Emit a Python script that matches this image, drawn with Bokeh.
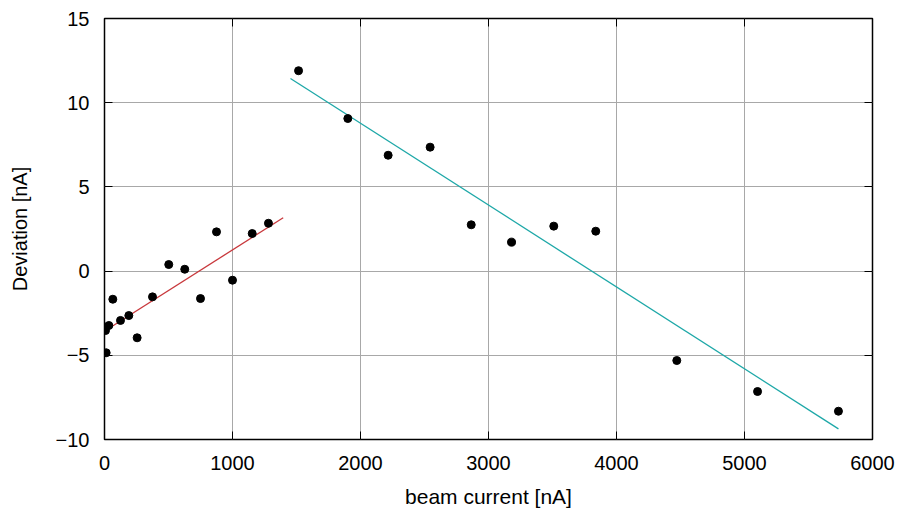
from bokeh.plotting import figure
from bokeh.models import LinearAxis, FixedTicker, Range1d
from bokeh.embed import file_html
from bokeh.resources import INLINE

# Measurements
x_low = [2, 8, 13, 34, 65, 125, 190, 255, 375, 502, 627, 750, 875, 1000, 1154, 1281]
y_low = [-3.33, -3.53, -4.85, -3.23, -1.67, -2.93, -2.64, -3.96, -1.53, 0.39, 0.11, -1.63, 2.33, -0.54, 2.23, 2.84]
x_high = [1516, 1901, 2216, 2544, 2865, 3180, 3510, 3838, 4471, 5102, 5734]
y_high = [11.9, 9.06, 6.88, 7.36, 2.75, 1.72, 2.67, 2.37, -5.31, -7.15, -8.32]

# Fit lines (end points)
fit_low_x = [8, 1396]
fit_low_y = [-3.53, 3.17]
fit_high_x = [1453, 5734]
fit_high_y = [11.44, -9.37]

x_ticks = [0, 1000, 2000, 3000, 4000, 5000, 6000]
y_ticks = [-10, -5, 0, 5, 10, 15]

FONT = "Liberation Sans"

p = figure(width=904, height=516, output_backend="svg", toolbar_location=None,
           x_range=Range1d(0, 6000), y_range=Range1d(-10, 15),
           min_border_left=104, min_border_right=32, min_border_top=18, min_border_bottom=77)

p.outline_line_color = "black"
p.outline_line_width = 1.5
p.background_fill_color = "white"
p.border_fill_color = "white"

for ax in [p.xaxis[0], p.yaxis[0]]:
    ax.axis_line_color = None
    ax.major_tick_in = 8
    ax.major_tick_out = 0
    ax.minor_tick_line_color = None
    ax.major_tick_line_color = "black"
    ax.major_tick_line_width = 1
    ax.major_label_text_font = FONT
    ax.major_label_text_font_size = "20px"
    ax.major_label_text_color = "black"
    ax.axis_label_text_font = FONT
    ax.axis_label_text_font_size = "20px"
    ax.axis_label_text_font_style = "normal"
    ax.axis_label_text_color = "black"

p.xaxis[0].axis_label_text_font_size = "21px"
p.xaxis[0].ticker = FixedTicker(ticks=x_ticks)
p.yaxis[0].ticker = FixedTicker(ticks=y_ticks)
p.xaxis[0].axis_label = "beam current [nA]"
p.yaxis[0].axis_label = "Deviation [nA]"
p.xaxis[0].major_label_standoff = 16
p.yaxis[0].major_label_standoff = 15
p.xaxis[0].axis_label_standoff = 12
p.yaxis[0].axis_label_standoff = 22

# mirrored ticks (no labels)
top = LinearAxis(ticker=FixedTicker(ticks=x_ticks),
                 major_label_overrides={t: "" for t in x_ticks},
                 axis_line_color=None, major_tick_in=8, major_tick_out=0,
                 minor_tick_line_color=None, major_label_standoff=0)
right = LinearAxis(ticker=FixedTicker(ticks=y_ticks),
                   major_label_overrides={t: "" for t in y_ticks},
                   axis_line_color=None, major_tick_in=8, major_tick_out=0,
                   minor_tick_line_color=None, major_label_standoff=0)
p.add_layout(top, "above")
p.add_layout(right, "right")

p.grid.grid_line_color = "#a8a8a8"
p.grid.grid_line_width = 1
p.xgrid.ticker = FixedTicker(ticks=x_ticks)
p.ygrid.ticker = FixedTicker(ticks=y_ticks)

p.line(fit_low_x, fit_low_y, line_color="#c8383c", line_width=1.3)
p.line(fit_high_x, fit_high_y, line_color="#1ea8a8", line_width=1.3)
p.scatter(x_low, y_low, size=8, color="black")
p.scatter(x_high, y_high, size=8, color="black")

open("out.html", "w").write(file_html(p, INLINE))
